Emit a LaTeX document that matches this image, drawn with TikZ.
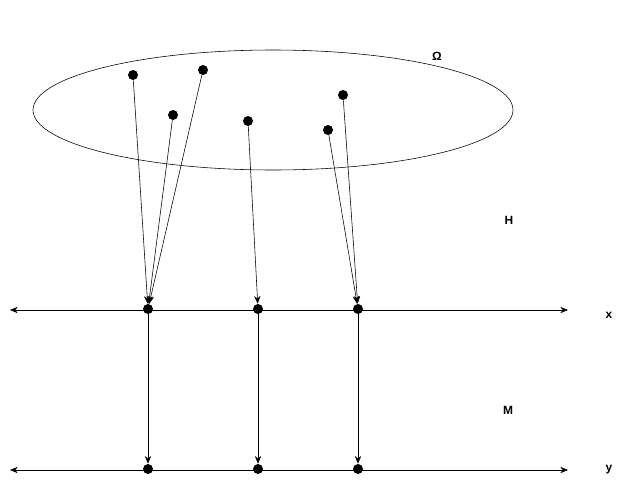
\documentclass[tikz,border=0pt]{standalone}
\usepackage{fontspec}
\setmainfont{Liberation Sans}
\usetikzlibrary{arrows.meta}

\begin{document}
\begin{tikzpicture}[x=0.025cm,y=-0.025cm,
    pt/.style={circle,fill=black,inner sep=0pt,minimum size=0.25cm},
    lbl/.style={font=\bfseries\fontsize{8.5}{10}\selectfont},
    >={Stealth[length=5.5pt,width=4.5pt]}]
  \useasboundingbox (0,0) rectangle (629,480);

  % the set Omega
  \draw (273,110) ellipse [x radius=240, y radius=60];
  \node[lbl] (om) at (437,56) {Ω};

  \node[pt] (w1) at (133,75) {};
  \node[pt] (w2) at (203,70) {};
  \node[pt] (w3) at (173,115) {};
  \node[pt] (w4) at (248,121) {};
  \node[pt] (w5) at (343,95) {};
  \node[pt] (w6) at (328,130) {};

  % x axis
  \coordinate (xl) at (10,310);
  \coordinate (xr) at (568,310);
  \draw[<->] (xl) -- (xr);
  \node[lbl] (xlab) at (609,315) {x};

  \node[pt] (x1) at (148,309) {};
  \node[pt] (x2) at (258,309) {};
  \node[pt] (x3) at (358,309) {};

  % y axis
  \coordinate (yl) at (10,470);
  \coordinate (yr) at (568,470);
  \draw[<->] (yl) -- (yr);
  \node[lbl] (ylab) at (609,470) {y};

  \node[pt] (y1) at (148,469) {};
  \node[pt] (y2) at (258,469) {};
  \node[pt] (y3) at (358,469) {};

  \node[lbl] (H) at (509,220) {H};
  \node[lbl] (M) at (508,410) {M};

  % H: Omega -> x
  \draw[->] (w1) -- (x1);
  \draw[->] (w2) -- (x1);
  \draw[->] (w3) -- (x1);
  \draw[->] (w4) -- (x2);
  \draw[->] (w5) -- (x3);
  \draw[->] (w6) -- (x3);

  % M: x -> y
  \draw[->] (x1) -- (y1);
  \draw[->] (x2) -- (y2);
  \draw[->] (x3) -- (y3);
\end{tikzpicture}
\end{document}
